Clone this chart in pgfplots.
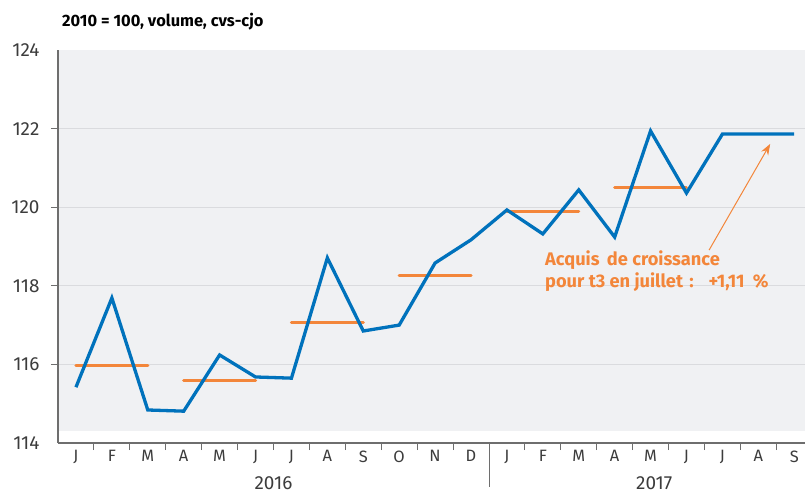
\documentclass[border=0pt]{standalone}
\usepackage{fontspec}
\setmainfont{Fira Sans}
\usepackage{pgfplots}
\pgfplotsset{compat=1.18}
\usetikzlibrary{arrows.meta}
\definecolor{bgray}{RGB}{240,241,243}
\definecolor{gline}{RGB}{218,219,222}
\definecolor{blueline}{RGB}{0,114,188}
\definecolor{orangeline}{RGB}{243,134,58}
\definecolor{axgray}{RGB}{110,110,110}
\definecolor{txtgray}{RGB}{60,60,60}
\begin{document}
\begin{tikzpicture}
\begin{axis}[
  set layers,
  at={(58bp,52bp)}, anchor=south west,
  scale only axis, width=747bp, height=393bp,
  xmin=-0.5, xmax=20.3, ymin=114, ymax=124,
  axis x line=bottom, axis y line=left,
  axis line style={-, draw=axgray, line width=1.3bp},
  xtick={0,...,20},
  xticklabels={J,F,M,A,M,J,J,A,S,O,N,D,J,F,M,A,M,J,J,A,S},
  minor xtick={0.5,1.5,...,19.5},
  major tick length=0pt,
  minor tick length=7bp,
  tick align=outside,
  tick style={draw=axgray, line width=0.9bp},
  ytick={114,116,...,124},
  yticklabel style={font=\fontsize{19}{19}\selectfont, text=txtgray, xshift=-15bp},
  xticklabel style={font=\fontsize{16.5}{16.5}\selectfont, text=txtgray, yshift=-4bp},
  /pgf/number format/assume math mode=true,
  /pgf/number format/1000 sep={},
  extra y ticks={116,118,120,122},
  extra y tick labels={},
  extra y tick style={grid=major, major grid style={draw=gline, line width=0.9bp}, major tick length=7bp},
  clip=false,
]
\addplot[draw=none, fill=bgray, on layer=axis background] coordinates {(-0.5,114.3) (20.3,114.3) (20.3,124) (-0.5,124)} -- cycle;
% quarterly averages
\addplot[orangeline, line width=3bp, line cap=round] coordinates {(0,115.98) (2,115.98)};
\addplot[orangeline, line width=3bp, line cap=round] coordinates {(3,115.58) (5,115.58)};
\addplot[orangeline, line width=3bp, line cap=round] coordinates {(6,117.06) (8,117.06)};
\addplot[orangeline, line width=3bp, line cap=round] coordinates {(9,118.25) (11,118.25)};
\addplot[orangeline, line width=3bp, line cap=round] coordinates {(12,119.90) (14,119.90)};
\addplot[orangeline, line width=3bp, line cap=round] coordinates {(15,120.51) (17,120.51)};
% monthly index
\addplot[blueline, line width=3.3bp, line join=miter] coordinates {
(0,115.42) (1,117.69) (2,114.84) (3,114.81) (4,116.24) (5,115.68) (6,115.65)
(7,118.71) (8,116.85) (9,117.00) (10,118.58) (11,119.17) (12,119.93) (13,119.32)
(14,120.44) (15,119.24) (16,121.94) (17,120.36) (18,121.86) (19,121.86) (20,121.86)};
% arrow
\draw[orangeline, line width=1bp, -{Stealth[length=11bp,width=8bp]}] (axis cs:17.63,118.91) -- (axis cs:19.33,121.61);
\node[anchor=base west, text=orangeline, font=\fontsize{18.3}{18.3}\selectfont\bfseries, inner sep=0pt] at (axis cs:13.06,118.52) {Acquis\hspace{3bp} de croissance};
\node[anchor=base west, text=orangeline, font=\fontsize{18.3}{18.3}\selectfont\bfseries, inner sep=0pt] at (axis cs:13.06,117.95) {pour t3 en juillet\hspace{2bp} :\hspace{9bp} +1,11\hspace{4bp} \%};
% year separator and labels
\draw[axgray, line width=0.9bp] (axis cs:11.5,114) -- ++(0bp,-44bp);
\node[anchor=base, text=txtgray, font=\fontsize{19}{19}\selectfont, inner sep=0pt] at ([yshift=-46bp]axis cs:5.5,114) {2016};
\node[anchor=base, text=txtgray, font=\fontsize{19}{19}\selectfont, inner sep=0pt] at ([yshift=-46bp]axis cs:16.1,114) {2017};
\end{axis}
\node[anchor=base west, font=\fontsize{16.5}{16.5}\selectfont\bfseries, inner sep=0pt] at (62bp,468bp) {2010 = 100, volume, cvs-cjo};
\pgfresetboundingbox
\path[use as bounding box] (0bp,0bp) rectangle (805bp,495bp);
\end{tikzpicture}
\end{document}
